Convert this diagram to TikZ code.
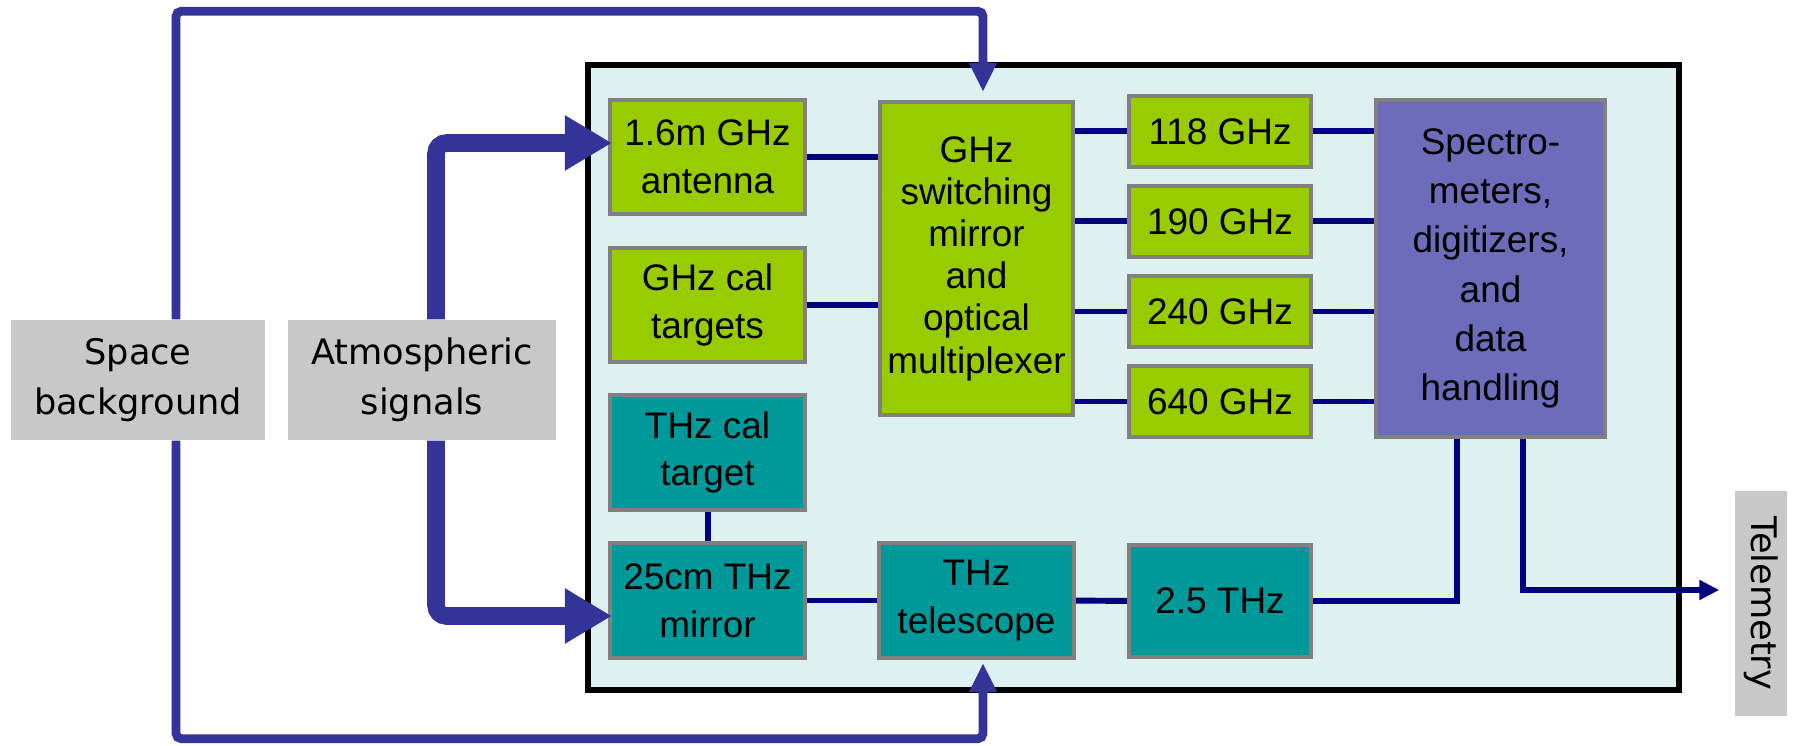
\documentclass[tikz,border=0pt]{standalone}
\usepackage{fontspec}
\setmainfont{Liberation Sans}
\newfontfamily\labelfont{DejaVu Sans}
\usetikzlibrary{arrows.meta}

\definecolor{skyblue}{RGB}{51,51,153}
\definecolor{wirenavy}{RGB}{0,0,128}
\definecolor{ghzgreen}{RGB}{153,204,0}
\definecolor{thzteal}{RGB}{0,153,153}
\definecolor{specblue}{RGB}{108,108,186}
\definecolor{panelcyan}{RGB}{222,240,240}
\definecolor{labelgray}{RGB}{200,200,200}
\definecolor{edgegray}{RGB}{128,128,128}

\begin{document}
\begin{tikzpicture}[x=0.01cm, y=0.01cm,
        every node/.style = {align=center, font=\fontsize{10.5}{13.6}\selectfont},
        unit/.style = {draw=edgegray, line width=1.15pt, inner sep=2pt},
        ghzbox/.style = {unit, fill=ghzgreen},
        thzbox/.style = {unit, fill=thzteal},
        specbox/.style = {unit, fill=specblue},
        labelbox/.style = {fill=labelgray, font=\labelfont\fontsize{10}{14.2}\selectfont},
        wire/.style = {draw=wirenavy, line width=1.7pt},
        beam/.style = {draw=skyblue, line width=5pt, rounded corners=3pt,
                -{Triangle[length=0.47cm, width=0.52cm]}},
        skyline/.style = {draw=skyblue, line width=2.5pt, rounded corners=1.5pt,
                -{Triangle[length=0.29cm, width=0.26cm]}}]
    \useasboundingbox (0,0) rectangle (1804,746);

    % instrument panel
    \draw[fill=panelcyan, line width=1.9pt] (588,56) rectangle (1679,681);

    % GHz front end
    \node[ghzbox, minimum width=1.95cm, minimum height=1.14cm] (ant) at (707.5,589) {1.6m GHz\\antenna};
    \node[ghzbox, minimum width=1.95cm, minimum height=1.14cm] (calg) at (707.5,441) {GHz cal\\targets};
    \node[ghzbox, minimum width=1.93cm, minimum height=3.13cm,
        font=\fontsize{10.5}{12}\selectfont] (sw) at (976.5,487.5)
        {GHz\\switching\\mirror\\and\\optical\\multiplexer};
    \node[ghzbox, minimum width=1.82cm, minimum height=0.71cm] (f118) at (1220,614.5) {118 GHz};
    \node[ghzbox, minimum width=1.82cm, minimum height=0.71cm] (f190) at (1220,524.5) {190 GHz};
    \node[ghzbox, minimum width=1.82cm, minimum height=0.71cm] (f240) at (1220,434.5) {240 GHz};
    \node[ghzbox, minimum width=1.82cm, minimum height=0.71cm] (f640) at (1220,344.5) {640 GHz};

    % THz front end
    \node[thzbox, minimum width=1.95cm, minimum height=1.15cm] (calt) at (707.5,293.5) {THz cal\\target};
    \node[thzbox, minimum width=1.95cm, minimum height=1.15cm] (mir) at (707.5,145.5) {25cm THz\\mirror};
    \node[thzbox, minimum width=1.95cm, minimum height=1.15cm] (tel) at (976.5,145.5) {THz\\telescope};
    \node[thzbox, minimum width=1.82cm, minimum height=1.12cm] (thz25) at (1220,145) {2.5 THz};

    % back end
    \node[specbox, minimum width=2.29cm, minimum height=3.37cm,
        font=\fontsize{10.5}{14}\selectfont] (spec) at (1490.5,477.5)
        {Spectro-\\meters,\\digitizers,\\and\\data\\handling};

    % outside
    \node[labelbox, minimum width=2.54cm, minimum height=1.2cm] (space) at (138,366) {Space\\background};
    \node[labelbox, minimum width=2.68cm, minimum height=1.2cm] (atm) at (422,366) {Atmospheric\\signals};
    \node[labelbox, rotate=-90, inner sep=1pt, minimum width=2.25cm, minimum height=0.52cm] (telem) at (1761,142.5) {Telemetry};

    % signal paths
    \draw[wire] (ant.east) -- (ant.east -| sw.west);
    \draw[wire] (calg.east) -- (calg.east -| sw.west);
    \foreach \f in {f118,f190,f240,f640} {
        \draw[wire] (\f.west -| sw.east) -- (\f.west);
        \draw[wire] (\f.east) -- (\f.east -| spec.west);
    }
    \draw[wire] (calt.south) -- (mir.north);
    \draw[wire] (mir) -- (tel);
    \draw[wire] (tel) -- (thz25);
    \draw[wire] (thz25.east) -| ([xshift=-0.335cm]spec.south);
    \draw[wire, -{Triangle[length=0.2cm, width=0.19cm]}]
        ([xshift=0.325cm]spec.south) |- ([xshift=-0.15cm, yshift=0.135cm]telem.south);

    \draw[beam] ([xshift=0.14cm]atm.north) |- ([xshift=0.04cm, yshift=0.14cm]ant.west);
    \draw[beam] ([xshift=0.14cm]atm.south) |- ([xshift=0.04cm, yshift=-0.155cm]mir.west);

    \draw[skyline] ([xshift=0.38cm]space.north) -- ++(0,308) -| ([xshift=0.065cm, yshift=0.08cm]sw.north);
    \draw[skyline] ([xshift=0.38cm]space.south) -- ++(0,-298) -| ([xshift=0.065cm, yshift=-0.03cm]tel.south);
\end{tikzpicture}
\end{document}
